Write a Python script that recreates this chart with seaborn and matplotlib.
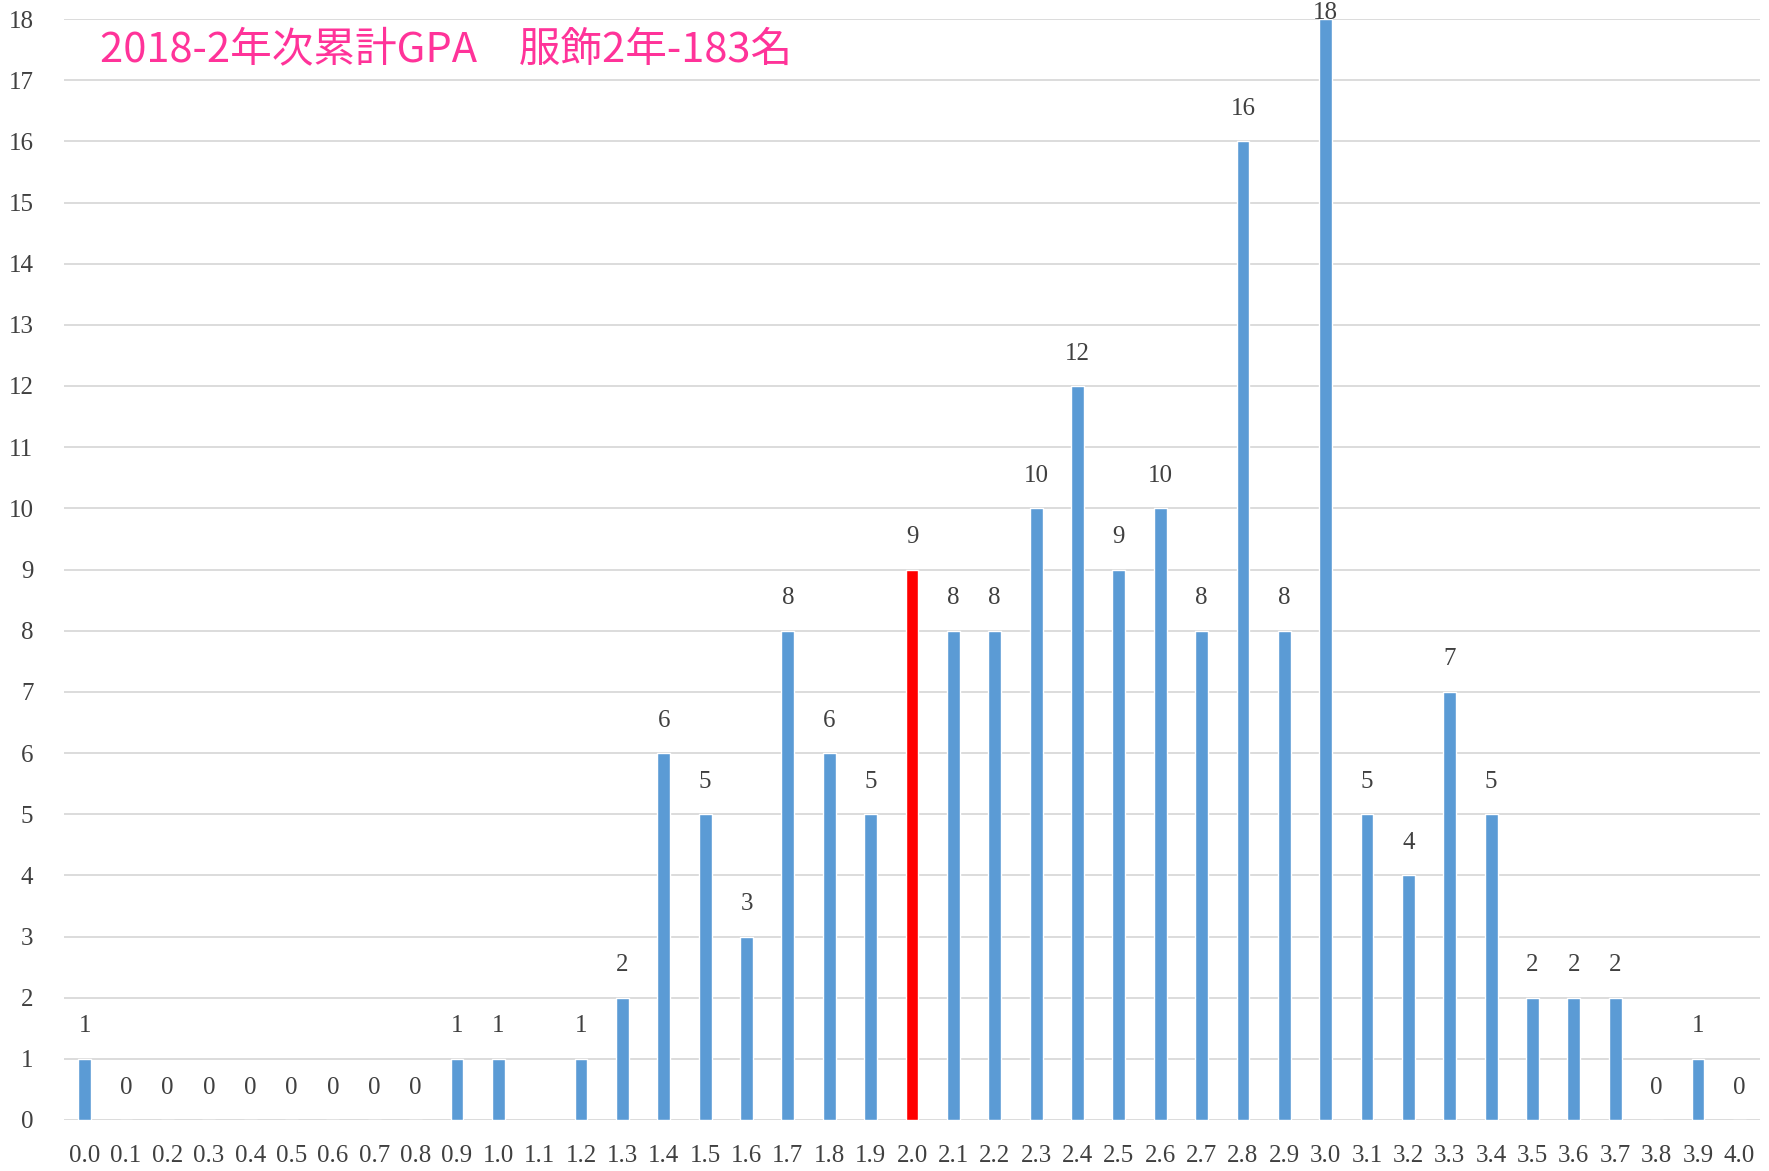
import numpy as np
import pandas as pd
import matplotlib
matplotlib.use("Agg")
import matplotlib.pyplot as plt
import seaborn as sns

# GPA bins and student counts (1.1 has no value in the source chart)
gpa_labels = ["0.0", "0.1", "0.2", "0.3", "0.4", "0.5", "0.6", "0.7", "0.8", "0.9",
              "1.0", "1.1", "1.2", "1.3", "1.4", "1.5", "1.6", "1.7", "1.8", "1.9",
              "2.0", "2.1", "2.2", "2.3", "2.4", "2.5", "2.6", "2.7", "2.8", "2.9",
              "3.0", "3.1", "3.2", "3.3", "3.4", "3.5", "3.6", "3.7", "3.8", "3.9", "4.0"]
counts = [1, 0, 0, 0, 0, 0, 0, 0, 0, 1,
          1, np.nan, 1, 2, 6, 5, 3, 8, 6, 5,
          9, 8, 8, 10, 12, 9, 10, 8, 16, 8,
          18, 5, 4, 7, 5, 2, 2, 2, 0, 1, 0]
highlight = "2.0"
y_ticks = list(range(0, 19))
title = "2018-2年次累計GPA　服飾2年-183名"

BLUE = "#5B9BD5"
RED = "#FF0000"

df = pd.DataFrame({"gpa": gpa_labels, "count": counts})
palette = {g: (RED if g == highlight else BLUE) for g in gpa_labels}

sns.set_theme(style="white")
plt.rcParams["font.family"] = ["Liberation Serif", "DejaVu Serif"]

fig = plt.figure(figsize=(17.69, 11.71), dpi=100)
ax = fig.add_axes([64 / 1769, 1 - 1120 / 1171, (1760 - 64) / 1769, (1120 - 19) / 1171])

sns.barplot(data=df.dropna(), x="gpa", y="count", hue="gpa", order=gpa_labels,
            palette=palette, legend=False, width=0.31, saturation=1, ax=ax, zorder=3)

ax.set_xlim(-0.5, len(gpa_labels) - 0.5)
ax.set_ylim(0, 18)
ax.set_yticks(y_ticks)
ax.yaxis.grid(True, color="#D9D9D9", linewidth=1.3, zorder=0)
ax.set_axisbelow(True)
for s in ax.spines.values():
    s.set_visible(False)
ax.tick_params(axis="both", length=0, labelsize=18, colors="#404040")
ax.tick_params(axis="x", pad=18)
ax.tick_params(axis="y", pad=22)
ax.set_xlabel("")
ax.set_ylabel("")

# data labels
for i, v in enumerate(counts):
    if np.isnan(v):
        continue
    y = min(v + 0.53, 18.1)
    ax.text(i, y, f"{int(v)}", ha="center", va="center", fontsize=18,
            color="#404040", clip_on=False)

fig.text(100 / 1769, 1 - 50 / 1171, title, fontsize=30, color="#FF3399",
         family=["Noto Sans CJK JP", "DejaVu Sans"], ha="left", va="center")

fig.savefig("out.png", dpi=100, facecolor="white")
